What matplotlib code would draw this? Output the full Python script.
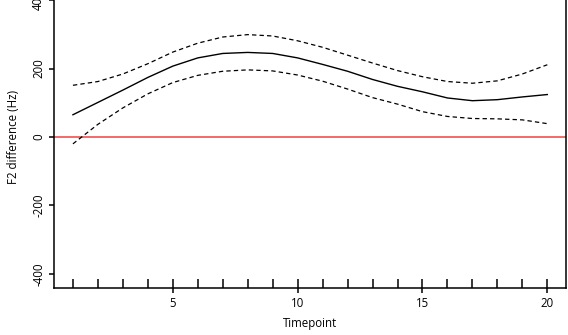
import numpy as np
import matplotlib
matplotlib.use('Agg')
import matplotlib.pyplot as plt

# Data
timepoints = np.arange(1, 21)
fit = [65, 101, 137, 174, 207, 231, 244, 247, 244, 231,
       212, 192, 168, 148, 132, 114, 106, 109, 117, 124]
upper = [151, 162, 184, 214, 248, 274, 292, 299, 295, 281,
         262, 239, 216, 194, 176, 162, 157, 164, 184, 211]
lower = [-20, 37, 85, 126, 159, 180, 192, 196, 193, 181,
         163, 140, 115, 96, 74, 60, 54, 53, 50, 39]

x_major = [5, 10, 15, 20]
y_major = [-400, -200, 0, 200, 400]

plt.rcParams['font.family'] = ['Open Sans', 'DejaVu Sans']

fig = plt.figure(figsize=(5.68, 3.35), dpi=100)
ax = fig.add_axes([0.095, 0.1403, 0.902, 0.9015])

ax.axhline(0, color='#f05252', lw=1.2, zorder=1)
ax.plot(timepoints, fit, color='black', lw=1.0)
ax.plot(timepoints, upper, color='black', lw=0.9, ls=(0, (3.5, 2.5)))
ax.plot(timepoints, lower, color='black', lw=0.9, ls=(0, (3.5, 2.5)))

ax.set_xlim(0.24, 20.76)
ax.set_ylim(-441, 441)

ax.set_xticks(x_major)
ax.set_xticks(timepoints, minor=True)
ax.xaxis.remove_overlapping_locs = False
ax.set_yticks(y_major)
ax.set_yticklabels([str(v) for v in y_major], rotation=90, va='center')

ax.tick_params(axis='x', which='major', direction='out', length=3.8, width=1.1,
               labelsize=8.3, pad=2.5)
ax.tick_params(axis='x', which='minor', direction='in', length=6.5, width=1.1)
ax.tick_params(axis='y', which='major', direction='out', length=3.8, width=1.1,
               labelsize=8.3, pad=2.5)

for side in ['left', 'bottom', 'right', 'top']:
    ax.spines[side].set_linewidth(1.1)

ax.set_xlabel('Timepoint', fontsize=8.3, labelpad=5)
ax.set_ylabel('F2 difference (Hz)', fontsize=8.3, labelpad=8.5)

fig.savefig('out.png', dpi=100)
